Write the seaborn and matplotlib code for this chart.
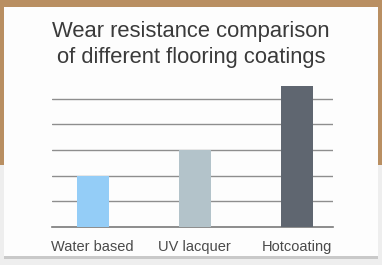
import matplotlib
matplotlib.use('Agg')
import matplotlib.pyplot as plt
import matplotlib.patches as mpatches
import seaborn as sns
import pandas as pd

# data
coatings = ['Water based', 'UV lacquer', 'Hotcoating']
wear = [2.0, 3.0, 5.5]
bar_colors = ['#94cdf7', '#b3c3ca', '#5f6670']

df = pd.DataFrame({'coating': coatings, 'wear': wear})

sns.set_style('white')
plt.rcParams['font.family'] = ['Liberation Sans', 'DejaVu Sans']

W, H = 382, 265
fig = plt.figure(figsize=(W / 100, H / 100), dpi=100)
fig.patch.set_facecolor('#b98f62')

# photo-like backdrop: wood at the top, pale wall lower down, white card on top
fig.patches.append(mpatches.Rectangle((0, 0), 1, 1 - 165 / H, transform=fig.transFigure,
                                      facecolor='#eeeeee', edgecolor='none', zorder=0))
fig.patches.append(mpatches.Rectangle((4 / W, 1 - 259 / H), 374 / W, 252 / H, transform=fig.transFigure,
                                      facecolor='#c9c9c9', edgecolor='none', zorder=0))
fig.patches.append(mpatches.Rectangle((4 / W, 1 - 256 / H), 374 / W, 249 / H, transform=fig.transFigure,
                                      facecolor='#fdfdfd', edgecolor='none', zorder=0))

ax = fig.add_axes([52 / W, 1 - 227 / H, 281 / W, 141 / H])
ax.set_zorder(2)
ax.patch.set_alpha(0)

sns.barplot(data=df, x='coating', y='wear', hue='coating', palette=bar_colors,
            legend=False, width=0.31, saturation=1, linewidth=0, ax=ax, zorder=3)

ax.set_ylim(0, 5.5)
ax.set_xlim(-0.40, 2.355)
ax.set_yticks([1, 2, 3, 4, 5])
ax.yaxis.grid(True, color='#8e8e8e', linewidth=1.0)
ax.set_axisbelow(True)
ax.tick_params(axis='y', left=False, labelleft=False)
ax.tick_params(axis='x', bottom=False, pad=6, labelsize=10.5, labelcolor='#4a4a4a')
for side in ['top', 'left', 'right']:
    ax.spines[side].set_visible(False)
ax.spines['bottom'].set_color('#7a7a7a')
ax.spines['bottom'].set_linewidth(1.2)
ax.set_xlabel('')
ax.set_ylabel('')

fig.text(0.5, 1 - 32 / H, 'Wear resistance comparison', ha='center', va='center',
         fontsize=15.8, color='#3a3a3a', zorder=3)
fig.text(0.5, 1 - 58 / H, 'of different flooring coatings', ha='center', va='center',
         fontsize=15.8, color='#3a3a3a', zorder=3)

fig.savefig('out.png', dpi=100, facecolor=fig.get_facecolor())
